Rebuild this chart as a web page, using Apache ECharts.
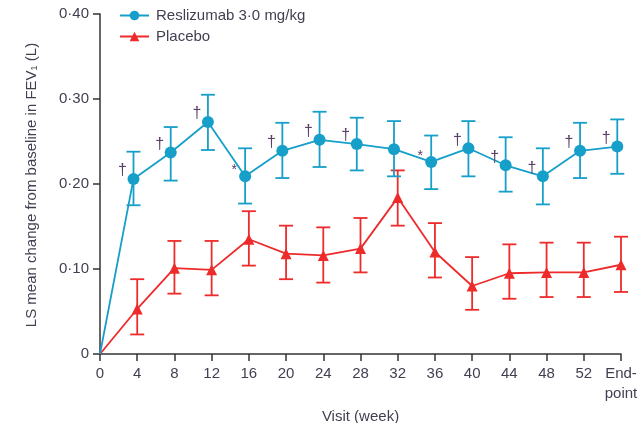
<!DOCTYPE html>
<html>
<head>
<meta charset="utf-8">
<script src="https://cdn.jsdelivr.net/npm/echarts@6/dist/echarts.min.js"></script>
<style>
  html, body { margin: 0; padding: 0; background: #fff; }
  #chart { width: 641px; height: 423px; }
</style>
</head>
<body>
<div id="chart"></div>
<script>
// Visit labels (weeks) along the x axis
const visitLabels = ['0', '4', '8', '12', '16', '20', '24', '28', '32', '36', '40', '44', '48', '52', 'End-\npoint'];

// Reslizumab 3·0 mg/kg: LS mean change in FEV1 (L) with lower / upper error limits
const reslizumabMean  = [0, 0.206, 0.237, 0.273, 0.209, 0.239, 0.252, 0.247, 0.241, 0.226, 0.242, 0.222, 0.209, 0.239, 0.244];
const reslizumabLower = [null, 0.175, 0.204, 0.240, 0.177, 0.207, 0.220, 0.216, 0.209, 0.194, 0.209, 0.191, 0.176, 0.207, 0.212];
const reslizumabUpper = [null, 0.238, 0.267, 0.305, 0.242, 0.272, 0.285, 0.278, 0.274, 0.257, 0.274, 0.255, 0.242, 0.272, 0.276];
// Significance markers next to each reslizumab point
const reslizumabSig   = ['', '†', '†', '†', '*', '†', '†', '†', '', '*', '†', '†', '†', '†', '†'];

// Placebo
const placeboMean  = [0, 0.053, 0.101, 0.099, 0.135, 0.118, 0.116, 0.124, 0.184, 0.120, 0.080, 0.095, 0.096, 0.096, 0.105];
const placeboLower = [null, 0.023, 0.071, 0.069, 0.104, 0.088, 0.084, 0.096, 0.151, 0.090, 0.052, 0.065, 0.067, 0.067, 0.073];
const placeboUpper = [null, 0.088, 0.133, 0.133, 0.168, 0.151, 0.149, 0.160, 0.216, 0.154, 0.114, 0.129, 0.131, 0.131, 0.138];

const yTicks = [0, 0.1, 0.2, 0.3, 0.4];

const TEAL = '#169fc9';
const RED = '#ee2b2b';
const TEXT = '#433e50';
const FONT = "'Liberation Sans', Arial, sans-serif";
// small horizontal offset so the two groups do not overlap exactly
const DODGE_RES = -0.1;

function xPos(i, dodge) { return i === 0 ? 0 : i + dodge; }

function lineData(means, dodge) {
  return means.map((v, i) => i === 0
    ? { value: [0, v], symbol: 'none' }
    : [xPos(i, dodge), v]);
}

function barData(lower, upper, dodge) {
  const out = [];
  lower.forEach((lo, i) => {
    if (lo != null) out.push([xPos(i, dodge), lo, upper[i]]);
  });
  return out;
}

function errorBarSeries(data, color) {
  return {
    type: 'custom',
    data: data,
    z: 3,
    silent: true,
    renderItem: function (params, api) {
      const x = api.value(0);
      const lo = api.coord([x, api.value(1)]);
      const hi = api.coord([x, api.value(2)]);
      const cap = 7;
      const style = { stroke: color, lineWidth: 1.8, fill: null };
      return {
        type: 'group',
        children: [
          { type: 'line', shape: { x1: lo[0], y1: lo[1], x2: hi[0], y2: hi[1] }, style: style },
          { type: 'line', shape: { x1: lo[0] - cap, y1: lo[1], x2: lo[0] + cap, y2: lo[1] }, style: style },
          { type: 'line', shape: { x1: hi[0] - cap, y1: hi[1], x2: hi[0] + cap, y2: hi[1] }, style: style }
        ]
      };
    },
    encode: { x: 0, y: [1, 2] }
  };
}

const sigData = reslizumabSig
  .map((s, i) => [xPos(i, DODGE_RES), reslizumabMean[i], s])
  .filter(d => d[2] !== '');

const chart = echarts.init(document.getElementById('chart'), null, { renderer: 'canvas' });

chart.setOption({
  animation: false,
  backgroundColor: '#fff',
  textStyle: { fontFamily: FONT },
  grid: { left: 100, right: 20, top: 14, bottom: 69, containLabel: false, outerBoundsMode: 'none' },
  legend: {
    orient: 'vertical',
    left: 119,
    top: 8,
    padding: 0,
    itemWidth: 29,
    itemHeight: 12,
    itemGap: 6,
    data: ['Reslizumab 3·0 mg/kg', 'Placebo'],
    textStyle: { fontFamily: FONT, fontSize: 15, color: TEXT, padding: [0, 0, 0, 2] }
  },
  xAxis: {
    type: 'value',
    min: 0,
    max: 14,
    interval: 1,
    splitLine: { show: false },
    axisLine: { lineStyle: { color: '#333', width: 1.5 } },
    axisTick: { length: 7, lineStyle: { color: '#333', width: 1.5 } },
    axisLabel: {
      margin: 10,
      fontFamily: FONT,
      fontSize: 15,
      lineHeight: 20,
      color: TEXT,
      align: 'center',
      formatter: v => visitLabels[Math.round(v)]
    },
    name: 'Visit (week)',
    nameLocation: 'middle',
    nameGap: 50,
    nameTextStyle: { fontFamily: FONT, fontSize: 15, color: TEXT }
  },
  yAxis: {
    type: 'value',
    min: yTicks[0],
    max: yTicks[yTicks.length - 1],
    interval: 0.1,
    splitLine: { show: false },
    axisLine: { show: true, lineStyle: { color: '#333', width: 1.5 } },
    axisTick: { show: true, length: 7, lineStyle: { color: '#333', width: 1.5 } },
    axisLabel: {
      margin: 11,
      fontFamily: FONT,
      fontSize: 15,
      color: TEXT,
      formatter: v => v === 0 ? '0' : v.toFixed(2).replace('.', '·')
    }
  },
  graphic: [{
    type: 'text',
    x: 32,
    y: 185,
    rotation: Math.PI / 2,
    style: {
      text: 'LS mean change from baseline in FEV₁ (L)',
      font: '15px ' + FONT,
      fill: TEXT,
      align: 'center',
      verticalAlign: 'middle'
    }
  }],
  series: [
    {
      name: 'Placebo',
      type: 'line',
      data: lineData(placeboMean, 0),
      symbol: 'triangle',
      symbolSize: 11,
      color: RED,
      lineStyle: { color: RED, width: 1.8 },
      itemStyle: { color: RED },
      z: 4
    },
    errorBarSeries(barData(placeboLower, placeboUpper, 0), RED),
    {
      name: 'Reslizumab 3·0 mg/kg',
      type: 'line',
      data: lineData(reslizumabMean, DODGE_RES),
      symbol: 'circle',
      symbolSize: 12,
      color: TEAL,
      lineStyle: { color: TEAL, width: 1.8 },
      itemStyle: { color: TEAL },
      z: 5
    },
    errorBarSeries(barData(reslizumabLower, reslizumabUpper, DODGE_RES), TEAL),
    {
      type: 'custom',
      data: sigData,
      silent: true,
      z: 6,
      renderItem: function (params, api) {
        const p = api.coord([api.value(0), api.value(1)]);
        const s = sigData[params.dataIndex][2];
        return {
          type: 'text',
          x: p[0] - 11,
          y: p[1] - (s === '*' ? 6 : 8),
          style: {
            text: s,
            font: (s === '*' ? '14px ' : '16px ') + FONT,
            fill: '#5a4068',
            align: 'center',
            verticalAlign: 'middle'
          }
        };
      },
      encode: { x: 0, y: 1 }
    }
  ]
});
</script>
</body>
</html>
